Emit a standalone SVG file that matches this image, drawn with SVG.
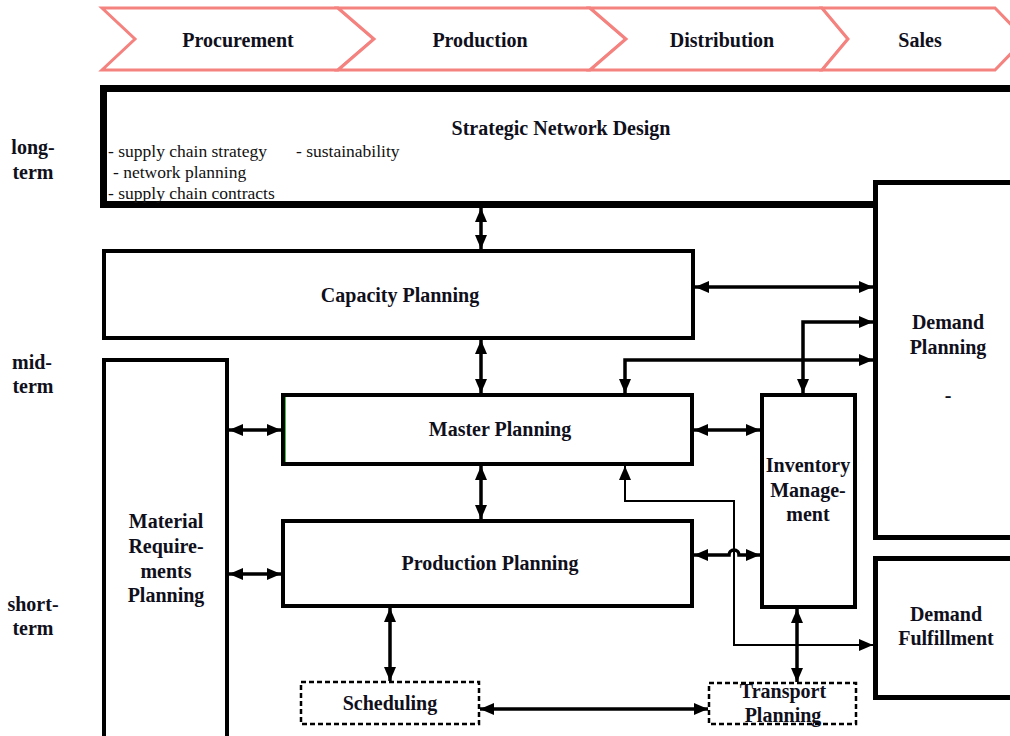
<svg xmlns="http://www.w3.org/2000/svg" width="1010" height="736" viewBox="0 0 1010 736">
<style>
.bn{fill:#fff;stroke:#F4827F;stroke-width:3;stroke-linejoin:miter}
.box{fill:#fff;stroke:#000;stroke-width:4}
.dash{fill:#fff;stroke:#000;stroke-width:2.5;stroke-dasharray:5 3}
.lb{font-family:"Liberation Serif","Times New Roman",serif;font-weight:bold;font-size:20px;fill:#10101c;text-anchor:middle}
.tx{font-family:"Liberation Serif","Times New Roman",serif;font-size:17.5px;fill:#111}
.c{fill:none;stroke:#000;stroke-width:3.5}
.ct{fill:none;stroke:#000;stroke-width:2}
</style>
<defs>
<marker id="ah" markerUnits="userSpaceOnUse" markerWidth="14" markerHeight="12" refX="14" refY="6" orient="auto-start-reverse">
<path d="M0,0 L14,6 L0,12 Z" fill="#000"/>
</marker>
</defs>
<rect width="1010" height="736" fill="#fff"/>
<g id="banner">
<path class="bn" d="M102,8 H338 L374,39 L338,70 H102 L135,39 Z"/>
<path class="bn" d="M338,8 H590 L626,39 L590,70 H338 L374,39 Z"/>
<path class="bn" d="M590,8 H822 L848,39 L822,70 H590 L626,39 Z"/>
<path class="bn" d="M822,8 H995 L1025,39 L995,70 H822 L848,39 Z"/>
<text class="lb" x="238" y="47">Procurement</text>
<text class="lb" x="480" y="47">Production</text>
<text class="lb" x="722" y="47">Distribution</text>
<text class="lb" x="920" y="47">Sales</text>
</g>
<g id="horizons">
<text class="lb" x="33" y="154">long-</text>
<text class="lb" x="33" y="179">term</text>
<text class="lb" x="32" y="369">mid-</text>
<text class="lb" x="33" y="393">term</text>
<text class="lb" x="33" y="611">short-</text>
<text class="lb" x="33" y="635">term</text>
</g>
<g id="strategic">
<rect x="103.5" y="88.5" width="1000" height="116" fill="#fff" stroke="#000" stroke-width="7"/>
<text class="lb" x="561" y="135">Strategic Network Design</text>
<text class="tx" x="108" y="157">- supply chain strategy</text>
<text class="tx" x="296" y="157">- sustainability</text>
<text class="tx" x="113" y="178">- network planning</text>
<text class="tx" x="108" y="199">- supply chain contracts</text>
</g>
<g id="demand-planning">
<rect x="875.5" y="182.5" width="200" height="355" fill="#fff" stroke="#000" stroke-width="5"/>
<text class="lb" x="948" y="329">Demand</text>
<text class="lb" x="948" y="354">Planning</text>
<text class="lb" x="948" y="402">-</text>
</g>
<g id="demand-fulfillment">
<rect x="875.5" y="558.5" width="200" height="139" fill="#fff" stroke="#000" stroke-width="5"/>
<text class="lb" x="946" y="621">Demand</text>
<text class="lb" x="946" y="645">Fulfillment</text>
</g>
<g id="capacity">
<rect class="box" x="104" y="251" width="589" height="87"/>
<text class="lb" x="400" y="302">Capacity Planning</text>
</g>
<g id="mrp">
<rect class="box" x="104" y="360" width="123" height="400"/>
<text class="lb" x="166" y="528">Material</text>
<text class="lb" x="166" y="553">Require-</text>
<text class="lb" x="166" y="578">ments</text>
<text class="lb" x="166" y="602">Planning</text>
</g>
<g id="master">
<rect class="box" x="283" y="395" width="409" height="69"/>
<line x1="285.5" y1="397" x2="285.5" y2="462" stroke="#3c3" stroke-width="1"/>
<text class="lb" x="500" y="436">Master Planning</text>
</g>
<g id="production">
<rect class="box" x="283" y="521" width="409" height="85"/>
<text class="lb" x="490" y="570">Production Planning</text>
</g>
<g id="inventory">
<rect class="box" x="762" y="395" width="93" height="212"/>
<text class="lb" x="808" y="472">Inventory</text>
<text class="lb" x="808" y="497">Manage-</text>
<text class="lb" x="808" y="521">ment</text>
</g>
<g id="scheduling">
<rect class="dash" x="301" y="682" width="178" height="42"/>
<text class="lb" x="390" y="710">Scheduling</text>
</g>
<g id="transport">
<rect class="dash" x="709" y="683" width="147" height="41"/>
<text class="lb" x="783" y="698">Transport</text>
<text class="lb" x="783" y="722">Planning</text>
</g>
<g id="connectors">
<path class="c" d="M481,208 V249" marker-start="url(#ah)" marker-end="url(#ah)"/>
<path class="c" d="M481,340 V393" marker-start="url(#ah)" marker-end="url(#ah)"/>
<path class="c" d="M481,466 V519" marker-start="url(#ah)" marker-end="url(#ah)"/>
<path class="c" d="M390,608 V681" marker-start="url(#ah)" marker-end="url(#ah)"/>
<path class="c" d="M797,609 V682" marker-start="url(#ah)" marker-end="url(#ah)"/>
<path class="c" d="M480,709 H708" marker-start="url(#ah)" marker-end="url(#ah)"/>
<path class="c" d="M229,430 H281" marker-start="url(#ah)" marker-end="url(#ah)"/>
<path class="c" d="M229,574 H281" marker-start="url(#ah)" marker-end="url(#ah)"/>
<path class="c" d="M694,430 H760" marker-start="url(#ah)" marker-end="url(#ah)"/>
<path class="c" d="M695,287 H873" marker-start="url(#ah)" marker-end="url(#ah)"/>
<path class="c" d="M625,393 V360 H873" marker-start="url(#ah)" marker-end="url(#ah)"/>
<path class="c" d="M803,393 V322 H873" marker-start="url(#ah)" marker-end="url(#ah)"/>
<path class="ct" d="M625,466 V501 H734 V645 H873" marker-start="url(#ah)" marker-end="url(#ah)"/>
<path class="c" d="M694,555 H729 A5,5 0 0 1 739,555 H760" marker-start="url(#ah)" marker-end="url(#ah)"/>
</g>
</svg>
